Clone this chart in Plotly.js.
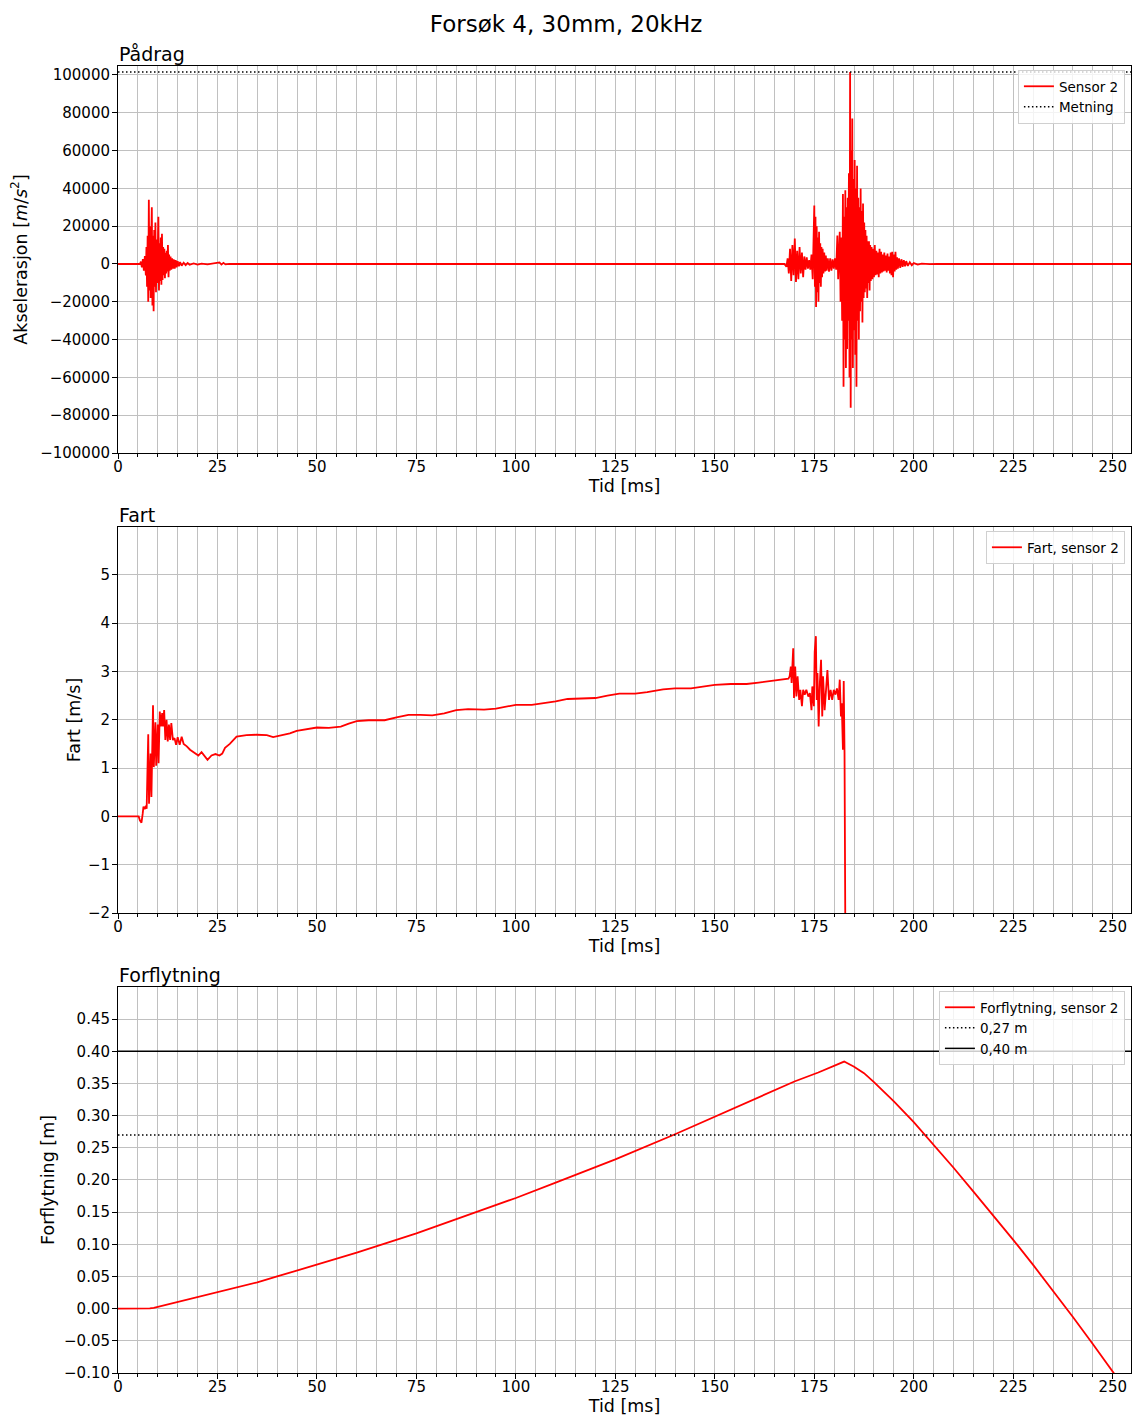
<!DOCTYPE html>
<html>
<head>
<meta charset="utf-8">
<script src="https://cdn.plot.ly/plotly-3.0.1.min.js"></script>
<style>html,body{margin:0;padding:0;background:#fff;}#chart{width:1132px;height:1416px;}</style>
</head>
<body>
<div id="chart"></div>
<script>
// ---- Data ----
// Acceleration, sensor 2 [m/s^2] vs time [ms]
const accT = [0, 5.5, 5.75, 6.0, 6.25, 6.5, 6.75,
  7.0, 7.15, 7.3, 7.45, 7.6, 7.75, 7.9, 8.05, 8.2, 8.35, 8.5, 8.65, 8.8, 8.95, 9.1, 9.25, 9.4, 9.55, 9.7, 9.85,
  10.0, 10.15, 10.3, 10.45, 10.6, 10.75, 10.9, 11.05, 11.2, 11.35, 11.5, 11.65, 11.8, 11.95, 12.1, 12.25, 12.4, 12.55, 12.7, 12.85,
  13.0, 13.2, 13.4, 13.6, 13.8, 14.0, 14.25, 14.5, 14.75, 15.0, 15.3, 15.6, 16.0, 16.5, 17.0, 17.5, 18.0, 19.0, 20.0, 21.0, 22.5, 24.0,
  25.0, 25.5, 26.0, 26.5, 27.0, 28.0, 30.0,
  167.5, 168.0, 168.3, 168.6, 168.9, 169.2, 169.5, 169.8, 170.1, 170.4, 170.7, 171.0, 171.3, 171.6, 171.9, 172.2, 172.5, 172.8, 173.1, 173.4, 173.7, 174.0, 174.3,
  174.6, 174.8, 175.0, 175.15, 175.3, 175.45, 175.6, 175.75, 175.9, 176.05, 176.2, 176.35, 176.5, 176.65, 176.8, 176.95, 177.1, 177.3, 177.5, 177.7, 177.9, 178.1, 178.4, 178.7, 179.0, 179.3, 179.6, 179.9, 180.2, 180.5,
  180.8, 181.0, 181.2, 181.4, 181.6, 181.8, 182.0, 182.2, 182.35, 182.5, 182.65, 182.8, 182.95, 183.1, 183.25, 183.4, 183.55, 183.7, 183.85,
  184.0, 184.15, 184.3, 184.45, 184.55, 184.7, 184.85, 185.0, 185.15, 185.3, 185.45, 185.6, 185.75, 185.9, 186.05, 186.2, 186.35, 186.5, 186.65, 186.8, 186.95,
  187.1, 187.25, 187.4, 187.55, 187.7, 187.85, 188.0, 188.15, 188.3, 188.45, 188.6, 188.75, 188.9, 189.05, 189.2, 189.4, 189.6, 189.8,
  190.0, 190.2, 190.4, 190.6, 190.8, 191.0, 191.2, 191.4, 191.6, 191.8, 192.0, 192.2, 192.4, 192.6, 192.8, 193.0, 193.2, 193.4, 193.6, 193.8,
  194.0, 194.2, 194.4, 194.6, 194.8, 195.0, 195.2, 195.4, 195.6, 195.8, 196.0, 196.3, 196.6, 196.9, 197.2, 197.5, 197.8, 198.1, 198.5, 199.0, 199.5,
  200.0, 201.0, 202.0, 204.0, 206.0, 210.0, 255.0];
const accV = [0, 0, 1200, -1800, 2600, -3500, 4200,
  -6000, 9000, -12000, 15000, -20000, 34000, -14000, 20000, -18000, 12000, 30000, -22000, 15000, -25000, 18000, -12000, 22000, -15000, 13000, -10000,
  17000, 25000, -14000, 11000, -9000, 14000, -11000, 16000, -8500, 9000, -6000, 8000, -7500, 6000, -5000, 7000, -4000, 10000, -7000, 5000,
  -3500, 4000, -3000, 3000, -2500, 2500, -2500, 2000, -1800, 1500, -1200, 1000, -900, 700, -600, 500, -400, 300, -300, 200, -200, 150,
  300, 800, -300, 600, -200, 100, 0,
  0, -1500, 3000, -5000, 8000, -9000, 10000, -6000, 13500, -9500, 7000, -8000, 9000, -5000, 6000, -7000, 4000, -3000, 3500, -2500, 2000, -3000, 5000,
  -8000, 15000, 31000, -12000, 25000, -22700, 20000, -15000, 14000, -20000, 17000, -10000, 11000, -12000, 9000, -7000, 8000, -5000, 6000, -4000, 4500, -3500, 3000, -4000, 3000, -3500, 2500, -2500, 3000, -3000,
  15000, -8000, 12000, 17000, -20000, 14000, -30000, 37000, -65000, 25000, -40000, 39000, -55000, 30000, -45000, 35000, -30000, 48000, -60000,
  101600, -76000, 60000, -40000, 77000, -55000, 45000, -35000, 55000, -48000, 40000, -65000, 52000, -30000, 35000, -40000, 30000, -25000, 40000, -20000, 28000,
  -31000, 32000, -18000, 22000, -15000, 18000, -13000, 15000, -18000, 12000, -10000, 12000, -14000, 10000, -9000, 9000, -8000, 8000,
  -7000, 10000, -6000, 7000, -5500, 6000, -7000, 8000, -5000, 6500, -4500, 5000, -4000, 6000, -3500, 4500, -4500, 5500, -3500, 4000,
  -5000, 6000, -6000, 6500, -7000, 5000, -4000, 6500, -3000, 3500, -2500, 3000, -2000, 2500, -1500, 2000, -1200, 1500, -1000, 900, -700,
  500, -300, 200, -100, 100, 0, 0];

// Saturation level ("Metning")
const metningLevel = 101600;

// Velocity, sensor 2 [m/s]
const fartT = [0, 5.2, 5.5, 5.9, 6.2, 6.4, 6.7, 7.0, 7.2, 7.4, 7.6, 7.8, 8.0, 8.2, 8.4, 8.6, 8.8, 9.0, 9.2, 9.4, 9.6, 9.8,
  10.0, 10.2, 10.5, 10.8, 11.1, 11.3, 11.6, 11.9, 12.2, 12.5, 12.8, 13.1, 13.4, 13.8, 14.2, 14.6, 15.0, 15.5, 16.0, 16.5,
  17.3, 18.1, 18.9, 19.5, 20.2, 21.0, 21.8, 22.5, 23.5, 24.5, 25.5, 26.2, 26.9, 28.1, 29.8, 32.3, 34.8, 37.4, 39.0, 40.7, 43.2, 44.9, 47,
  50, 53, 56, 58, 60, 63, 67, 70, 73, 76, 79, 82, 85, 88, 92, 95, 98, 100, 104, 107, 110, 113, 117, 120, 123, 126, 130, 133, 137, 140,
  144, 147, 150, 154, 158, 161, 164, 168, 168.5,
  168.8, 169.1, 169.3, 169.7, 169.9, 170.2, 170.5, 170.8, 171.2, 171.5, 171.9, 172.2, 172.6, 173.0, 173.5, 173.9, 174.3, 174.5, 174.9,
  175.1, 175.4, 175.6, 175.8, 176.1, 176.4, 176.7, 177.0, 177.2, 177.6, 177.9, 178.3, 178.7, 179.1, 179.5, 179.9, 180.3, 180.7,
  181.1, 181.4, 181.7, 181.9, 182.2, 182.4, 182.6, 182.8, 183.0];
const fartV = [0, 0, -0.08, -0.13, 0.05, 0.2, 0.15, 0.22, 0.16, 1.1, 1.7, 0.26, 0.9, 1.3, 0.4, 1.85, 2.3, 1.02, 1.6, 1.95, 1.05, 1.5,
  1.9, 1.1, 2.17, 1.86, 2.14, 1.86, 2.2, 1.58, 2.0, 1.55, 1.9, 1.58, 1.93, 1.58, 1.62, 1.48, 1.64, 1.48, 1.65, 1.5,
  1.45, 1.38, 1.33, 1.3, 1.26, 1.33, 1.25, 1.17, 1.26, 1.29, 1.26, 1.3, 1.42, 1.5, 1.65, 1.68, 1.69, 1.68, 1.64, 1.67, 1.72, 1.77, 1.8,
  1.84, 1.83, 1.86, 1.92, 1.97, 1.99, 1.99, 2.05, 2.1, 2.1, 2.09, 2.13, 2.2, 2.22, 2.21, 2.23, 2.28, 2.31, 2.31, 2.34, 2.38, 2.43, 2.44, 2.45, 2.5, 2.54, 2.54, 2.57, 2.63, 2.65,
  2.65, 2.68, 2.72, 2.74, 2.74, 2.77, 2.8, 2.84, 2.85,
  2.9, 3.1, 2.76, 3.48, 2.45, 3.1, 2.48, 2.9, 2.41, 2.62, 2.28, 2.62, 2.52, 2.62, 2.48, 2.55, 2.2, 2.69, 2.28,
  3.4, 3.73, 2.41, 2.97, 1.86, 2.76, 3.24, 2.07, 2.9, 2.2, 2.62, 3.03, 2.41, 2.62, 2.41, 2.62, 2.52, 2.65,
  2.41, 2.83, 2.07, 2.34, 1.38, 2.8, 1.31, -2.5, -6];

// Displacement, sensor 2 [m]
const forflT = [0, 7, 8, 9, 10, 11.5, 13, 15, 20, 25, 30, 35, 40, 50, 60, 75, 90, 100, 110, 125, 140, 150, 160, 170, 176, 180, 182.5,
  185, 187.5, 190, 195, 200, 205, 210, 215, 220, 225, 230, 235, 240, 245, 250, 252];
const forflV = [0, 0, 0.0003, 0.0012, 0.0027, 0.005, 0.0075, 0.011, 0.018, 0.025, 0.033, 0.041, 0.050, 0.068, 0.087, 0.117, 0.150, 0.172, 0.196, 0.232, 0.271, 0.298, 0.325, 0.353, 0.367, 0.377, 0.384,
  0.376, 0.366, 0.352, 0.322, 0.290, 0.255, 0.219, 0.182, 0.145, 0.107, 0.068, 0.028, -0.013, -0.055, -0.098, -0.115];

const lim027 = 0.27;
const lim040 = 0.40;

const xMax = 254.6;

// ---- Styling ----
const FONT = 'DejaVu Sans, Liberation Sans, sans-serif';
const RED = '#ff0000';
const GRID = '#c0c0c0';
const LW = 1.8;

function xAxis(anchor) {
  return {
    anchor: anchor, domain: [0, 1], range: [0, xMax],
    tick0: 0, dtick: 25, ticks: 'outside', ticklen: 5, tickwidth: 1, tickcolor: '#000',
    ticklabelstandoff: -5,
    showgrid: true, gridcolor: GRID, gridwidth: 1, zeroline: false,
    showline: true, mirror: true, linecolor: '#000', linewidth: 1,
    minor: {dtick: 5, tick0: 0, showgrid: true, gridcolor: GRID, gridwidth: 1, ticks: 'outside', ticklen: 3, tickcolor: '#000'},
    tickfont: {size: 15, family: FONT, color: '#000'},
    title: {text: 'Tid [ms]', font: {size: 17.5, family: FONT, color: '#000'}, standoff: 4},
    automargin: false
  };
}
function yAxis(anchor, domain, range, dtick, fmt, titleText, standoff) {
  return {
    anchor: anchor, domain: domain, range: range, dtick: dtick, tick0: 0, tickformat: fmt,
    ticks: 'outside', ticklen: 5, tickwidth: 1, tickcolor: '#000',
    ticklabelstandoff: -1,
    showgrid: true, gridcolor: GRID, gridwidth: 1, zeroline: false,
    showline: true, mirror: true, linecolor: '#000', linewidth: 1,
    tickfont: {size: 15, family: FONT, color: '#000'},
    title: {text: titleText, font: {size: 17.5, family: FONT, color: '#000'}, standoff: standoff},
    automargin: false
  };
}

const traces = [
  {x: accT, y: accV, type: 'scatter', mode: 'lines', name: 'Sensor 2', line: {color: RED, width: LW}, xaxis: 'x', yaxis: 'y', legend: 'legend'},
  {x: [0, xMax], y: [metningLevel, metningLevel], type: 'scatter', mode: 'lines', name: 'Metning', line: {color: '#000', width: 1.5, dash: '1.5px,2.5px'}, xaxis: 'x', yaxis: 'y', legend: 'legend'},
  {x: fartT, y: fartV, type: 'scatter', mode: 'lines', name: 'Fart, sensor 2', line: {color: RED, width: LW}, xaxis: 'x2', yaxis: 'y2', legend: 'legend2'},
  {x: forflT, y: forflV, type: 'scatter', mode: 'lines', name: 'Forflytning, sensor 2', line: {color: RED, width: LW}, xaxis: 'x3', yaxis: 'y3', legend: 'legend3'},
  {x: [0, xMax], y: [lim027, lim027], type: 'scatter', mode: 'lines', name: '0,27 m', line: {color: '#000', width: 1.5, dash: '1.5px,2.5px'}, xaxis: 'x3', yaxis: 'y3', legend: 'legend3'},
  {x: [0, xMax], y: [lim040, lim040], type: 'scatter', mode: 'lines', name: '0,40 m', line: {color: '#000', width: 1.5}, xaxis: 'x3', yaxis: 'y3', legend: 'legend3'}
];

function legendBox(y) {
  return {
    x: 0.994, xanchor: 'right', y: y, yanchor: 'top', xref: 'paper', yref: 'paper',
    bgcolor: 'rgba(255,255,255,0.8)', bordercolor: '#d0d0d0', borderwidth: 1,
    font: {size: 13.5, family: FONT, color: '#000'}, tracegroupgap: 0, itemwidth: 30
  };
}

const D1 = [963/1416, 1350/1416];
const D2 = [503/1416, 889/1416];
const D3 = [43/1416, 429/1416];

const layout = {
  width: 1132, height: 1416,
  margin: {l: 118, r: 1, t: 0, b: 0},
  paper_bgcolor: '#fff', plot_bgcolor: '#fff',
  font: {family: FONT, color: '#000'},
  showlegend: true,
  title: {text: 'Forsøk 4, 30mm, 20kHz', x: 0.5, xref: 'container', xanchor: 'center', y: 1 - 24/1416, yref: 'container', yanchor: 'middle', font: {size: 23, family: FONT, color: '#000'}},
  xaxis: xAxis('y'),
  yaxis: yAxis('x', D1, [-100000, 104750], 20000, 'd', 'Akselerasjon [<i>m</i>/<i>s</i><sup>2</sup>]', 8),
  xaxis2: xAxis('y2'),
  yaxis2: yAxis('x2', D2, [-2, 5.99], 1, 'd', 'Fart [m/s]', 2),
  xaxis3: xAxis('y3'),
  yaxis3: yAxis('x3', D3, [-0.1, 0.4999], 0.05, '.2f', 'Forflytning [m]', 4),
  legend: legendBox(1 - 70/1416),
  legend2: legendBox(1 - 531/1416),
  legend3: legendBox(1 - 991/1416),
  annotations: [
    {text: 'Pådrag', xref: 'paper', yref: 'paper', x: 0, y: D1[1], xanchor: 'left', yanchor: 'bottom', showarrow: false, font: {size: 19, family: FONT, color: '#000'}, yshift: -1, xshift: -1},
    {text: 'Fart', xref: 'paper', yref: 'paper', x: 0, y: D2[1], xanchor: 'left', yanchor: 'bottom', showarrow: false, font: {size: 19, family: FONT, color: '#000'}, yshift: -1, xshift: -1},
    {text: 'Forflytning', xref: 'paper', yref: 'paper', x: 0, y: D3[1], xanchor: 'left', yanchor: 'bottom', showarrow: false, font: {size: 19, family: FONT, color: '#000'}, yshift: -1, xshift: -1}
  ]
};

Plotly.newPlot('chart', traces, layout, {staticPlot: true, displayModeBar: false});
</script>
</body>
</html>
